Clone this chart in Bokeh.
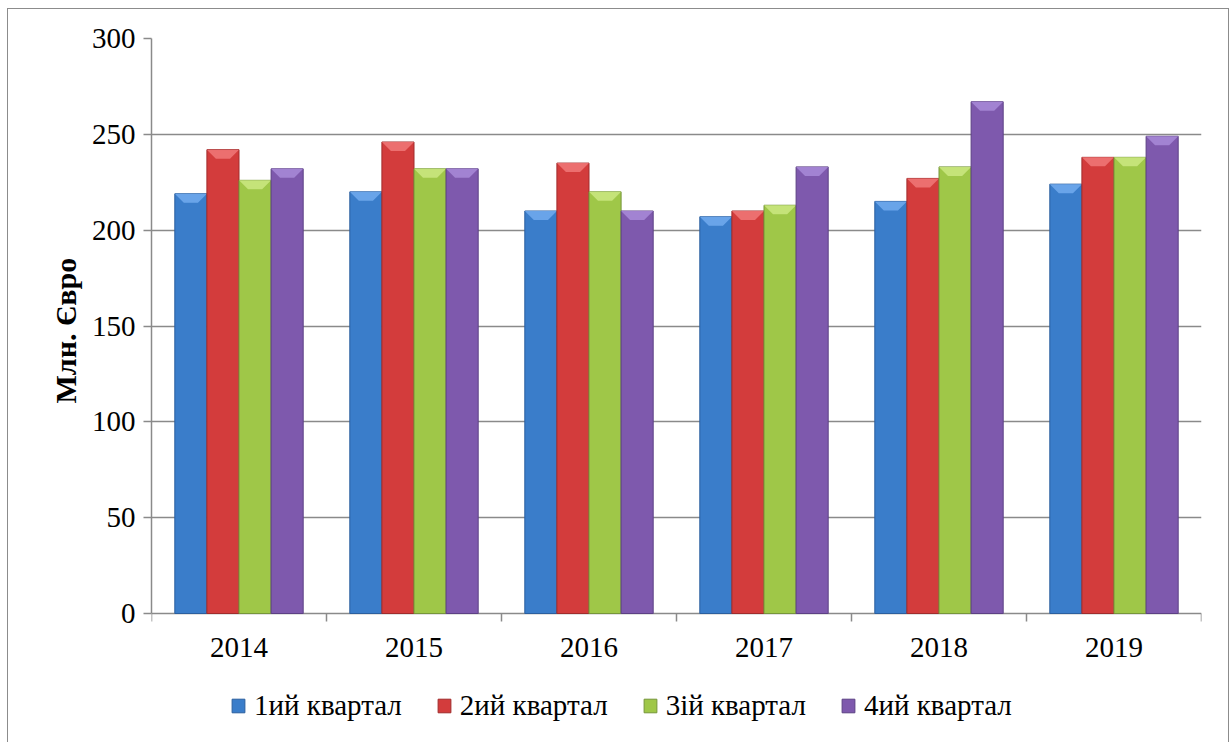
from bokeh.plotting import figure
from bokeh.models import FixedTicker, Legend, LegendItem, Range1d, ColumnDataSource, Title
from bokeh.core.properties import value
from bokeh.embed import file_html
from bokeh.resources import INLINE
import numpy as np

# ---- data -------------------------------------------------------------
years = ["2014", "2015", "2016", "2017", "2018", "2019"]
quarters = ["1ий квартал", "2ий квартал", "3ій квартал", "4ий квартал"]
q1 = [219, 220, 210, 207, 215, 224]
q2 = [242, 246, 235, 210, 227, 238]
q3 = [226, 232, 220, 213, 233, 238]
q4 = [232, 232, 210, 233, 267, 249]
y_ticks = [0, 50, 100, 150, 200, 250, 300]
y_axis_title = "Млн. Євро"

# ---- styling / layout -------------------------------------------------
FONT = "Liberation Serif"
fills = ["#3a7dca", "#d33c3c", "#9fc748", "#7e59ad"]
bevels = ["#6fa9ec", "#ee7474", "#c9e67e", "#a687d6"]
edges = ["#2b5f9e", "#a02c2c", "#76963a", "#5c4084"]
GRID = "#8a8a8a"
BORDER = "#8c8c8c"
W, H = 1230, 742
TOP, LEFT, RIGHT = 38, 151, 29
PLOT_H = 575                                 # pixel height of the 0..300 value span
PX = PLOT_H / 300                            # pixels per value unit
Y_MIN = -(H - TOP - PLOT_H) / PX             # room under zero for year names and legend
BAR_W = 0.1834                               # bar width as a fraction of one year slot
BEVEL = 9 / PX                               # light bevel at the top of each bar
TICK = 8 / PX                                # category tick length below the axis
YEAR_Y = -34 / PX                            # year names, centred under each group
TITLE_OFFSET = 339                           # lifts the y title from the frame bottom

p = figure(
    width=W, height=H,
    x_range=Range1d(0, len(years)), y_range=Range1d(Y_MIN, 300),
    x_axis_type=None,
    output_backend="svg", toolbar_location=None,
    min_border_left=LEFT, min_border_right=RIGHT,
    min_border_top=TOP, min_border_bottom=0,
)
p.outline_line_color = None
p.border_fill_color = None
p.background_fill_color = "white"
# thin grey box around the whole chart
p.styles = {"background": ",".join([
    f"linear-gradient({BORDER},{BORDER}) 7px 8px / 1px 100% no-repeat",
    f"linear-gradient({BORDER},{BORDER}) 7px 8px / 1222px 1px no-repeat",
    f"linear-gradient({BORDER},{BORDER}) 1228px 8px / 1px 100% no-repeat",
    "white",
])}

# y axis and grid (the zero grid line doubles as the category axis line)
yax = p.yaxis[0]
yax.bounds = (0, 300)
yax.ticker = FixedTicker(ticks=y_ticks)
yax.minor_tick_line_color = None
yax.major_tick_in = 0
yax.major_tick_out = 8
yax.axis_line_color = GRID
yax.axis_line_width = 1.5
yax.major_tick_line_color = GRID
yax.major_tick_line_width = 1.5
yax.major_label_text_font = FONT
yax.major_label_text_font_size = "29px"
yax.major_label_text_color = "black"
yax.major_label_standoff = 8

p.ygrid.ticker = FixedTicker(ticks=y_ticks)
p.ygrid.grid_line_color = GRID
p.ygrid.grid_line_width = 1.5

# vertical axis title beside the 0..300 span
p.add_layout(Title(
    text=y_axis_title, align="left", offset=TITLE_OFFSET,
    text_font=FONT, text_font_style="bold", text_font_size="30px",
    text_color="black", standoff=14,
), "left")

# category axis: ticks at slot boundaries, year names at slot centres
bounds = np.arange(len(years) + 1)
p.segment(x0=bounds, y0=np.zeros(len(bounds)), x1=bounds, y1=np.full(len(bounds), -TICK),
          line_color=GRID, line_width=1.5)
centres = np.arange(len(years)) + 0.5
p.text(x=centres, y=np.full(len(years), YEAR_Y), text=years,
       text_font=value(FONT), text_font_size="29px", text_color="black",
       text_align="center", text_baseline="middle")

# ---- bars ---------------------------------------------------------------
series = [q1, q2, q3, q4]
items = []
for k, (name, vals) in enumerate(zip(quarters, series)):
    vals = np.asarray(vals, dtype=float)
    xc = centres + (k - 1.5) * BAR_W
    src = ColumnDataSource(dict(x=xc, top=vals))
    r = p.vbar(x="x", top="top", width=BAR_W, bottom=0, source=src,
               fill_color=fills[k], line_color=edges[k], line_width=1)
    # bevelled highlight across the top of every bar
    left = xc - BAR_W / 2
    right = xc + BAR_W / 2
    inset = BAR_W * 0.28
    xs = [[l, rr, rr - inset, l + inset] for l, rr in zip(left, right)]
    ys = [[t, t, t - BEVEL, t - BEVEL] for t in vals]
    p.patches(xs=xs, ys=ys, fill_color=bevels[k], line_color=None, fill_alpha=0.9)
    items.append(LegendItem(label=name, renderers=[r]))

legend = Legend(
    items=items, orientation="horizontal", location=(79, 20),
    label_text_font=FONT, label_text_font_size="29px", label_text_color="black",
    glyph_width=16, glyph_height=17, label_standoff=8, spacing=34,
    border_line_color=None, background_fill_alpha=0,
    padding=0, margin=0,
)
p.add_layout(legend, "center")

open("out.html", "w").write(file_html(p, INLINE))
